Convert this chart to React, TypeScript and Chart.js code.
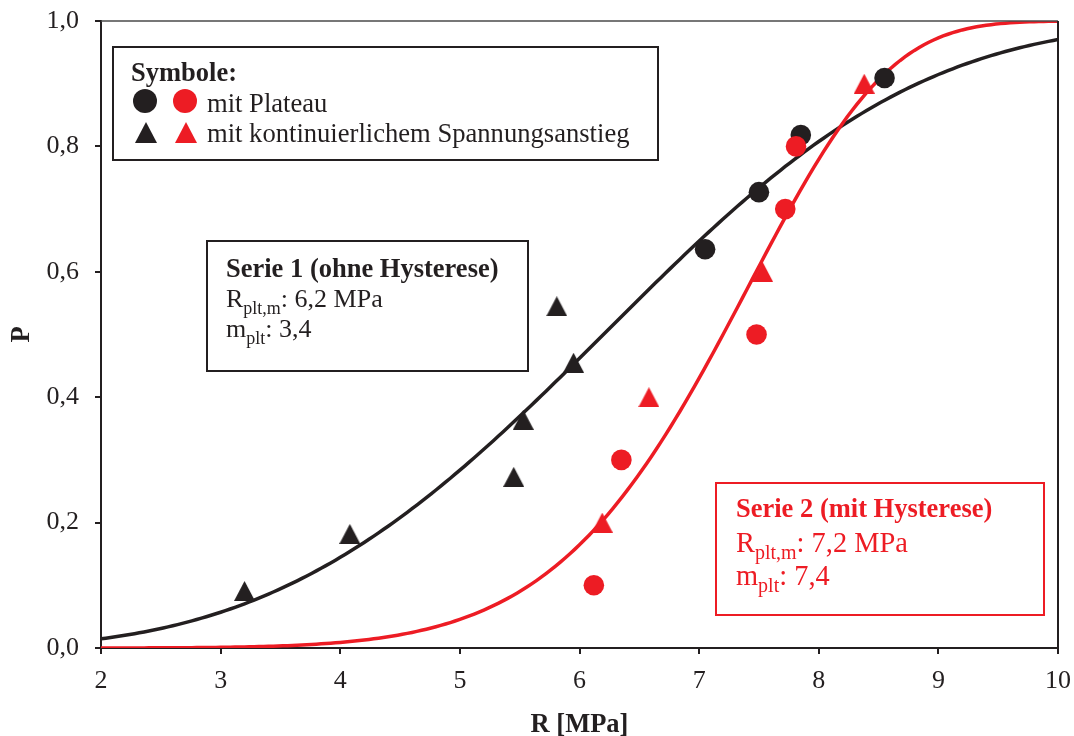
import { useEffect, useRef } from "react";
import { Chart, registerables } from "chart.js";

Chart.register(...registerables);

const BLACK = "#231f20";
const RED = "#ed1c24";
const FONT = '"Liberation Serif", "Times New Roman", serif';

// Serie 1 (ohne Hysterese): R [MPa] and failure probability P
const s1PlateauR = [7.05, 7.5, 7.85, 8.55];
const s1PlateauP = [0.636, 0.727, 0.818, 0.909];
const s1RampR = [3.2, 4.08, 5.45, 5.53, 5.95, 5.81];
const s1RampP = [0.091, 0.182, 0.273, 0.364, 0.455, 0.545];

// Serie 2 (mit Hysterese)
const s2PlateauR = [6.12, 6.35, 7.48, 7.72, 7.81];
const s2PlateauP = [0.1, 0.3, 0.5, 0.7, 0.8];
const s2RampR = [6.19, 6.58, 7.53, 8.38];
const s2RampP = [0.2, 0.4, 0.6, 0.9];

// Weibull fit parameters (median strength R_plt,m and modulus m_plt)
const s1Rm = 6.2;
const s1M = 3.4;
const s2Rm = 7.2;
const s2M = 7.4;

const xTicks = [2, 3, 4, 5, 6, 7, 8, 9, 10];
const yTicks = [0, 0.2, 0.4, 0.6, 0.8, 1.0];

const de = (v: number) => v.toFixed(1).replace(".", ",");

// Weibull distribution with R_plt,m as median: P = 1 - 2^(-(R/Rm)^m)
function weibullCurve(rm: number, m: number) {
  const pts: { x: number; y: number }[] = [];
  const lo = xTicks[0];
  const hi = xTicks[xTicks.length - 1];
  const n = 200;
  for (let i = 0; i <= n; i++) {
    const r = lo + ((hi - lo) * i) / n;
    pts.push({ x: r, y: 1 - Math.pow(2, -Math.pow(r / rm, m)) });
  }
  return pts;
}

function toPoints(xs: number[], ys: number[]) {
  return xs.map((x, i) => ({ x, y: ys[i] }));
}

function triangleImage(color: string, w: number, h: number) {
  const c = document.createElement("canvas");
  c.width = w;
  c.height = h;
  const g = c.getContext("2d")!;
  g.fillStyle = color;
  g.beginPath();
  g.moveTo(w / 2, 0);
  g.lineTo(w, h);
  g.lineTo(0, h);
  g.closePath();
  g.fill();
  return c;
}

type Part = { text: string; sub?: boolean };

function drawRich(
  ctx: CanvasRenderingContext2D,
  x: number,
  y: number,
  parts: Part[],
  size: number,
  color: string,
  bold = false
) {
  ctx.fillStyle = color;
  ctx.textBaseline = "alphabetic";
  ctx.textAlign = "left";
  let cx = x;
  for (const p of parts) {
    const s = p.sub ? Math.round(size * 0.7) : size;
    ctx.font = `${bold ? "bold " : ""}${s}px ${FONT}`;
    ctx.fillText(p.text, cx, p.sub ? y + size * 0.25 : y);
    cx += ctx.measureText(p.text).width;
  }
}

const annotations = {
  id: "annotations",
  afterDraw(chart: Chart) {
    const ctx = chart.ctx;
    const { left, right, top, bottom } = chart.chartArea;
    ctx.save();

    // frame: top and right edges
    ctx.strokeStyle = "#4a4a4a";
    ctx.lineWidth = 1.5;
    ctx.beginPath();
    ctx.moveTo(left, top);
    ctx.lineTo(right, top);
    ctx.stroke();
    ctx.strokeStyle = BLACK;
    ctx.lineWidth = 2;
    ctx.beginPath();
    ctx.moveTo(right, top);
    ctx.lineTo(right, bottom);
    ctx.stroke();

    // symbol key
    ctx.fillStyle = "#ffffff";
    ctx.fillRect(113, 47, 545, 113);
    ctx.strokeStyle = BLACK;
    ctx.lineWidth = 2;
    ctx.strokeRect(113, 47, 545, 113);
    drawRich(ctx, 131, 81, [{ text: "Symbole:" }], 26.5, BLACK, true);
    ctx.fillStyle = BLACK;
    ctx.beginPath();
    ctx.arc(145, 101, 12, 0, Math.PI * 2);
    ctx.fill();
    ctx.fillStyle = RED;
    ctx.beginPath();
    ctx.arc(185, 101, 12, 0, Math.PI * 2);
    ctx.fill();
    ctx.drawImage(triangleImage(BLACK, 22, 21), 135, 122);
    ctx.drawImage(triangleImage(RED, 22, 21), 175, 122);
    drawRich(ctx, 207, 112, [{ text: "mit Plateau" }], 26.6, BLACK);
    drawRich(ctx, 207, 142, [{ text: "mit kontinuierlichem Spannungsanstieg" }], 26.6, BLACK);

    // Serie 1 box
    ctx.fillStyle = "#ffffff";
    ctx.fillRect(207, 241, 321, 130);
    ctx.strokeStyle = BLACK;
    ctx.lineWidth = 2;
    ctx.strokeRect(207, 241, 321, 130);
    drawRich(ctx, 226, 277, [{ text: "Serie 1 (ohne Hysterese)" }], 26.5, BLACK, true);
    drawRich(ctx, 226, 307, [{ text: "R" }, { text: "plt,m", sub: true }, { text: `: ${de(s1Rm)} MPa` }], 26, BLACK);
    drawRich(ctx, 226, 337, [{ text: "m" }, { text: "plt", sub: true }, { text: `: ${de(s1M)}` }], 26, BLACK);

    // Serie 2 box
    ctx.fillStyle = "#ffffff";
    ctx.fillRect(716, 483, 328, 132);
    ctx.strokeStyle = RED;
    ctx.lineWidth = 2;
    ctx.strokeRect(716, 483, 328, 132);
    drawRich(ctx, 736, 517, [{ text: "Serie 2 (mit Hysterese)" }], 26.5, RED, true);
    drawRich(ctx, 736, 552, [{ text: "R" }, { text: "plt,m", sub: true }, { text: `: ${de(s2Rm)} MPa` }], 28.4, RED);
    drawRich(ctx, 736, 585, [{ text: "m" }, { text: "plt", sub: true }, { text: `: ${de(s2M)}` }], 28.4, RED);

    ctx.restore();
  },
};

export default function App() {
  const canvasRef = useRef<HTMLCanvasElement | null>(null);

  useEffect(() => {
    if (!canvasRef.current) return;
    const triBlack = triangleImage(BLACK, 21, 20);
    const triRed = triangleImage(RED, 21, 20);
    const tickFont = { family: FONT, size: 26 };
    const titleFont = { family: FONT, size: 26.5, weight: "bold" as const, lineHeight: 1 };

    const chart = new Chart(canvasRef.current, {
      type: "scatter",
      data: {
        datasets: [
          {
            label: "Serie 2 mit Plateau",
            data: toPoints(s2PlateauR, s2PlateauP),
            pointStyle: "circle",
            pointRadius: 10.3,
            backgroundColor: RED,
            borderWidth: 0,
            order: 1,
          },
          {
            label: "Serie 2 mit kontinuierlichem Spannungsanstieg",
            data: toPoints(s2RampR, s2RampP),
            pointStyle: triRed,
            backgroundColor: RED,
            borderWidth: 0,
            order: 2,
          },
          {
            label: "Serie 1 mit Plateau",
            data: toPoints(s1PlateauR, s1PlateauP),
            pointStyle: "circle",
            pointRadius: 10.3,
            backgroundColor: BLACK,
            borderWidth: 0,
            order: 3,
          },
          {
            label: "Serie 1 mit kontinuierlichem Spannungsanstieg",
            data: toPoints(s1RampR, s1RampP),
            pointStyle: triBlack,
            backgroundColor: BLACK,
            borderWidth: 0,
            order: 4,
          },
          {
            label: "Weibull Serie 2",
            data: weibullCurve(s2Rm, s2M),
            showLine: true,
            pointRadius: 0,
            borderColor: RED,
            borderWidth: 3.5,
            order: 5,
          },
          {
            label: "Weibull Serie 1",
            data: weibullCurve(s1Rm, s1M),
            showLine: true,
            pointRadius: 0,
            borderColor: BLACK,
            borderWidth: 3.5,
            order: 6,
          },
        ],
      },
      options: {
        animation: false,
        responsive: false,
        events: [],
        layout: { padding: { top: 21, right: 16, bottom: 0, left: 0 } },
        plugins: {
          legend: { display: false },
          tooltip: { enabled: false },
        },
        scales: {
          x: {
            type: "linear",
            min: xTicks[0],
            max: xTicks[xTicks.length - 1],
            afterBuildTicks: (s: any) => {
              s.ticks = xTicks.map((v) => ({ value: v }));
            },
            afterFit: (s: any) => {
              s.height = 88;
              s.paddingLeft = 0;
              s.paddingRight = 0;
            },
            ticks: {
              font: tickFont,
              color: BLACK,
              padding: 12,
              callback: (v: any) => String(v),
            },
            grid: {
              drawOnChartArea: false,
              drawTicks: true,
              tickLength: 6,
              color: BLACK,
              lineWidth: 2,
            },
            border: { display: true, color: BLACK, width: 2 },
            title: {
              display: true,
              text: "R [MPa]",
              font: titleFont,
              color: BLACK,
              padding: { top: 0, bottom: -2 },
            },
          },
          y: {
            type: "linear",
            min: yTicks[0],
            max: yTicks[yTicks.length - 1],
            afterBuildTicks: (s: any) => {
              s.ticks = yTicks.map((v) => ({ value: v }));
            },
            afterFit: (s: any) => {
              s.width = 101;
              s.paddingTop = 0;
              s.paddingBottom = 0;
            },
            ticks: {
              font: tickFont,
              color: BLACK,
              padding: 16,
              callback: (v: any) => de(Number(v)),
            },
            grid: {
              drawOnChartArea: false,
              drawTicks: true,
              tickLength: 6,
              color: BLACK,
              lineWidth: 2,
            },
            border: { display: true, color: BLACK, width: 2 },
            title: {
              display: true,
              text: "P",
              font: titleFont,
              color: BLACK,
              padding: { top: 9, bottom: 0 },
            },
          },
        },
      },
      plugins: [annotations],
    });

    return () => chart.destroy();
  }, []);

  return (
    <div style={{ position: "fixed", left: 0, top: 0, width: 1074, height: 736, background: "#ffffff" }}>
      <canvas ref={canvasRef} width={1074} height={736} style={{ display: "block" }} />
    </div>
  );
}
